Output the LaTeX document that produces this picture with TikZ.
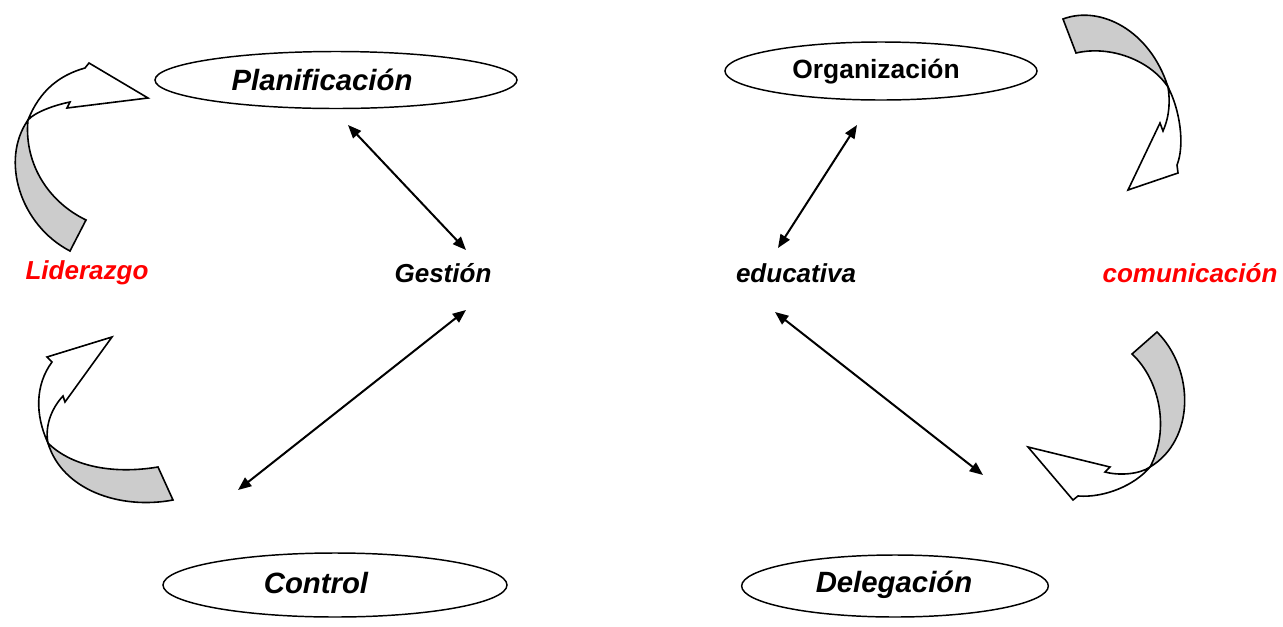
\documentclass[tikz,border=0pt]{standalone}
\usepackage{fontspec}
\setmainfont{Liberation Sans}
\usetikzlibrary{shapes.geometric,arrows.meta}
\definecolor{bandgray}{RGB}{204,204,204}
\definecolor{labelred}{RGB}{255,0,0}
\begin{document}
\begin{tikzpicture}[x=0.75pt,y=-0.75pt,
  oval/.style={draw,line width=1.1pt,ellipse,inner sep=0pt},
  word/.style={font=\fontsize{19.5}{22}\selectfont\bfseries\itshape},
  bigword/.style={font=\fontsize{22}{25}\selectfont\bfseries\itshape},
  upword/.style={font=\fontsize{19.8}{22}\selectfont\bfseries},
  link/.style={line width=1.5pt,{Triangle[length=10pt,width=8pt]}-{Triangle[length=10pt,width=8pt]}},
  band/.style={draw,line width=1.2pt,fill=bandgray,line join=miter},
  head/.style={draw,line width=1.2pt,fill=white,line join=miter}]
\useasboundingbox (0,0) rectangle (1283,626);

% ovals (sizes in pt: one unit is 0.75pt)
\node[oval,minimum width=271.5pt,minimum height=42.75pt] (plan) at (336,80) {};
\node[oval,minimum width=234pt,minimum height=43.5pt] (org) at (881,71) {};
\node[oval,minimum width=258pt,minimum height=48pt] (ctrl) at (335,585) {};
\node[oval,minimum width=230pt,minimum height=46.5pt] (dele) at (895,586) {};

% labels
\node[bigword] (tplan) at (322,80) {Planificación};
\node[upword] (torg) at (876,72) {Organización};
\node[bigword] (tctrl) at (316,583) {Control};
\node[bigword] (tdele) at (894,585) {Delegación};
\node[word,text=labelred] (lid) at (87,273) {Liderazgo};
\node[word] (ges) at (443,273) {Gestión};
\node[word] (edu) at (796,273) {educativa};
\node[word,text=labelred] (com) at (1190,273) {comunicación};

% end points of the links
\coordinate (p1) at (348,125);
\coordinate (g1) at (466,250);
\coordinate (g2) at (466,310);
\coordinate (c1) at (238,490);
\coordinate (o1) at (857,125);
\coordinate (e1) at (778,248);
\coordinate (e2) at (775,312);
\coordinate (d1) at (983,475);

\draw[link] (p1) -- (g1);
\draw[link] (g2) -- (c1);
\draw[link] (o1) -- (e1);
\draw[link] (e2) -- (d1);

% twisted ribbon arrow, upper left
\draw[band] (70,251) .. controls (20,225) and (0,160) .. (28,120)
  .. controls (24,160) and (45,200) .. (86,220) -- cycle;
\draw[head] (28,120) .. controls (40,90) and (60,75) .. (85,68) -- (89,63) -- (148,98)
  -- (67,108) -- (70,102) .. controls (55,105) and (35,112) .. (28,120) -- cycle;

% twisted ribbon arrow, lower left
\draw[band] (48,443) .. controls (70,465) and (110,475) .. (158,467) -- (173,500)
  .. controls (120,510) and (62,490) .. (48,443) -- cycle;
\draw[head] (48,443) .. controls (35,415) and (35,385) .. (52,362) -- (47,357) -- (112,337)
  -- (65,402) -- (63,396) .. controls (50,410) and (45,428) .. (48,443) -- cycle;

% twisted ribbon arrow, upper right
\draw[band] (1063,19) .. controls (1100,5) and (1150,30) .. (1168,87)
  .. controls (1150,60) and (1110,45) .. (1076,53) -- cycle;
\draw[head] (1168,87) .. controls (1180,110) and (1185,145) .. (1177,165) -- (1178,173)
  -- (1128,190) -- (1160,123) -- (1163,131) .. controls (1170,115) and (1170,100) .. (1168,87) -- cycle;

% twisted ribbon arrow, lower right
\draw[band] (1157,332) .. controls (1195,370) and (1195,440) .. (1150,467)
  .. controls (1170,430) and (1160,380) .. (1132,354) -- cycle;
\draw[head] (1150,467) .. controls (1135,485) and (1105,498) .. (1078,496) -- (1073,500)
  -- (1028,447) -- (1110,467) -- (1105,472) .. controls (1120,476) and (1140,474) .. (1150,467) -- cycle;
\end{tikzpicture}
\end{document}
